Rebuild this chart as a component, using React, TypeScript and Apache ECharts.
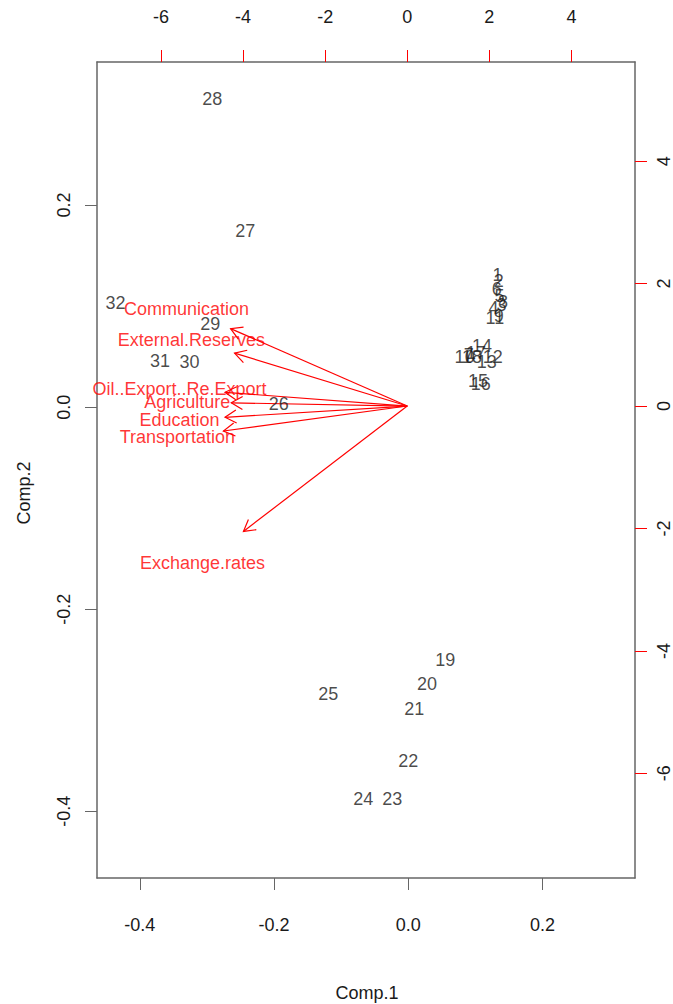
import React, { useEffect, useRef } from "react";
import * as echarts from "echarts";

// Observation scores (Comp.1, Comp.2) with labels
const obsLabels = ["1","2","3","4","5","6","7","8","9","10","11","12","13","14","15","16","17","18","19","20","21","22","23","24","25","26","27","28","29","30","31","32"];
const obsComp1 = [0.133,0.135,0.139,0.127,0.136,0.132,0.090,0.141,0.135,0.084,0.129,0.126,0.117,0.110,0.104,0.108,0.101,0.095,0.055,0.028,0.009,0.000,-0.024,-0.067,-0.119,-0.193,-0.243,-0.292,-0.295,-0.326,-0.370,-0.436];
const obsComp2 = [0.131,0.125,0.101,0.098,0.110,0.117,0.052,0.104,0.090,0.050,0.088,0.050,0.045,0.061,0.026,0.023,0.054,0.050,-0.250,-0.274,-0.299,-0.350,-0.388,-0.388,-0.284,0.003,0.174,0.305,0.082,0.045,0.046,0.103];

// Variable loadings (top / right axes)
const varNames = ["Communication","External.Reserves","Oil..Export..Re.Export","Agriculture","Education","Transportation","Exchange.rates"];
const varComp1 = [-5.38,-5.26,-5.55,-5.36,-5.55,-5.60,-4.99];
const varComp2 = [1.58,1.08,0.28,0.065,-0.23,-0.51,-2.56];

const bottomTicks = [-0.4,-0.2,0.0,0.2];
const leftTicks = [-0.4,-0.2,0.0,0.2];
const topTicks = [-6,-4,-2,0,2,4];
const rightTicks = [-6,-4,-2,0,2,4];

const FONT = "'Liberation Sans', Arial, sans-serif";
const FS = 18;
const BOX = "#666";
const RED = "#ff0000";
const INK = "#1a1a1a";

export default function App() {
  const ref = useRef<HTMLDivElement>(null);
  useEffect(() => {
    if (!ref.current) return;
    const chart = echarts.init(ref.current, null, { renderer: "svg" });
    const obsData = obsLabels.map((l, i) => [obsComp1[i], obsComp2[i], l]);
    const varData = varNames.map((n, i) => [varComp1[i], varComp2[i], n]);
    const axisText = { fontFamily: FONT, fontSize: FS, color: INK };
    chart.setOption({
      animation: false,
      backgroundColor: "#fff",
      grid: { left: 97, right: 35, top: 62, bottom: 126, containLabel: false },
      xAxis: [
        {
          type: "value", position: "bottom", min: -0.4637, max: 0.3378,
          axisLine: { show: true, onZero: false, lineStyle: { color: BOX, width: 1.5 } },
          axisTick: { show: true, length: 12, customValues: bottomTicks, lineStyle: { color: BOX } },
          axisLabel: { ...axisText, margin: 38, customValues: bottomTicks, formatter: (v: number) => v.toFixed(1) },
          splitLine: { show: false },
        },
        {
          type: "value", position: "top", min: -7.56, max: 5.55,
          axisLine: { show: true, onZero: false, lineStyle: { color: BOX, width: 1.5 } },
          axisTick: { show: true, length: 12, customValues: topTicks, lineStyle: { color: RED } },
          axisLabel: { ...axisText, margin: 36, customValues: topTicks, formatter: (v: number) => String(v) },
          splitLine: { show: false },
        },
      ],
      yAxis: [
        {
          type: "value", position: "left", min: -0.466, max: 0.3416,
          axisLine: { show: true, onZero: false, lineStyle: { color: BOX, width: 1.5 } },
          axisTick: { show: true, length: 12, customValues: leftTicks, lineStyle: { color: BOX } },
          axisLabel: { ...axisText, rotate: 90, margin: 24, customValues: leftTicks, formatter: (v: number) => v.toFixed(1) },
          splitLine: { show: false },
        },
        {
          type: "value", position: "right", min: -7.71, max: 5.62,
          axisLine: { show: true, onZero: false, lineStyle: { color: BOX, width: 1.5 } },
          axisTick: { show: true, length: 12, customValues: rightTicks, lineStyle: { color: RED } },
          axisLabel: { ...axisText, rotate: 90, margin: 20, customValues: rightTicks, formatter: (v: number) => String(v) },
          splitLine: { show: false },
        },
      ],
      graphic: [
        { type: "text", x: 367, y: 993, style: { text: "Comp.1", font: `${FS}px ${FONT}`, fill: INK, textAlign: "center", textVerticalAlign: "middle" } },
        { type: "text", x: 24, y: 493, rotation: Math.PI / 2, style: { text: "Comp.2", font: `${FS}px ${FONT}`, fill: INK, textAlign: "center", textVerticalAlign: "middle" } },
      ],
      series: [
        {
          type: "custom",
          xAxisIndex: 1, yAxisIndex: 1,
          data: varData,
          silent: true,
          renderItem: (params: any, api: any) => {
            const o = api.coord([0, 0]);
            const t = api.coord([api.value(0) * 0.8, api.value(1) * 0.8]);
            const ang = Math.atan2(t[1] - o[1], t[0] - o[0]);
            const L = 13, a = Math.PI / 6;
            const p1 = [t[0] - L * Math.cos(ang - a), t[1] - L * Math.sin(ang - a)];
            const p2 = [t[0] - L * Math.cos(ang + a), t[1] - L * Math.sin(ang + a)];
            return {
              type: "group",
              children: [
                { type: "line", shape: { x1: o[0], y1: o[1], x2: t[0], y2: t[1] }, style: { stroke: RED, lineWidth: 1.2 } },
                { type: "polyline", shape: { points: [p1, t, p2] }, style: { stroke: RED, fill: "none", lineWidth: 1.2 } },
              ],
            };
          },
        },
        {
          type: "scatter",
          xAxisIndex: 1, yAxisIndex: 1,
          data: varData,
          symbolSize: 0,
          silent: true,
          label: { show: true, position: "inside", formatter: (p: any) => p.data[2], fontFamily: FONT, fontSize: FS, color: RED },
        },
        {
          type: "scatter",
          xAxisIndex: 0, yAxisIndex: 0,
          data: obsData,
          symbolSize: 0,
          silent: true,
          label: { show: true, position: "inside", formatter: (p: any) => p.data[2], fontFamily: FONT, fontSize: FS, color: INK },
        },
      ],
    });
    return () => chart.dispose();
  }, []);
  return <div ref={ref} style={{ position: "fixed", left: 0, top: 0, width: 673, height: 1004 }} />;
}
